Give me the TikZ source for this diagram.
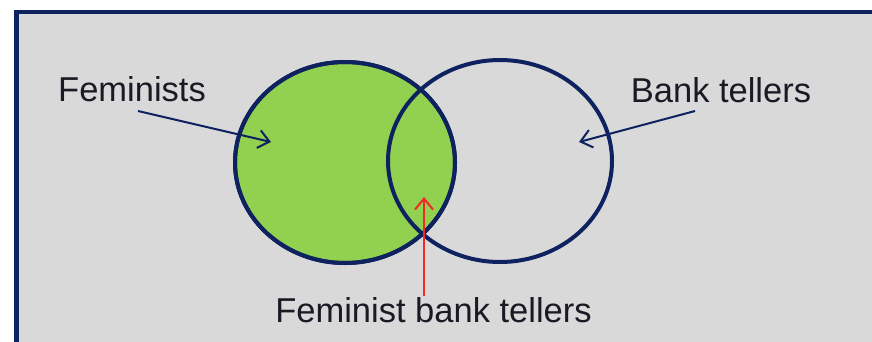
\documentclass[tikz,border=0pt]{standalone}
\usepackage{fontspec}
\setmainfont{Liberation Sans}
\usetikzlibrary{arrows.meta,shapes.geometric}
\definecolor{navy}{RGB}{14,34,96}
\definecolor{bg}{RGB}{217,217,217}
\definecolor{vgreen}{RGB}{146,208,80}
\definecolor{txt}{RGB}{28,24,36}
\definecolor{ptred}{RGB}{245,40,40}
\begin{document}
\begin{tikzpicture}[x=1pt,y=-1pt,
  lbl/.style={font=\fontsize{34.5}{40}\selectfont, text=txt, inner sep=0pt, anchor=base},
  ptr/.style={line width=2pt, -{Straight Barb[length=11pt,width=18pt,line width=2pt]}},
  ring/.style={ellipse, draw=navy, line width=4pt, inner sep=0pt}]
\useasboundingbox (0,0) rectangle (872,341);
\clip (0,0) rectangle (872,341);
\draw[draw=navy, fill=bg, line width=4.5pt] (16.5,12) rectangle (900,380);
\node[ring, fill=vgreen, minimum width=220pt, minimum height=201pt] (fem) at (345,162.5) {};
\node[ring, minimum width=224pt, minimum height=202pt] (bank) at (500,161) {};
\draw[navy, line width=4pt] (fem.center) ellipse [x radius=110, y radius=100.5];
\node[lbl] (femlbl) at (132,101) {Feminists};
\node[lbl] (banklbl) at (721,102) {Bank tellers};
\node[lbl] (bothlbl) at (433.5,322) {Feminist bank tellers};
\coordinate (femtail) at (138,111);
\coordinate (femtip) at (271,142);
\coordinate (banktail) at (695,111);
\coordinate (banktip) at (579,142);
\coordinate (redtail) at (424,296);
\coordinate (redtip) at (424,197);
\draw[ptr, navy] (femtail) -- (femtip);
\draw[ptr, navy] (banktail) -- (banktip);
\draw[ptr, ptred] (redtail) -- (redtip);
\end{tikzpicture}
\end{document}
